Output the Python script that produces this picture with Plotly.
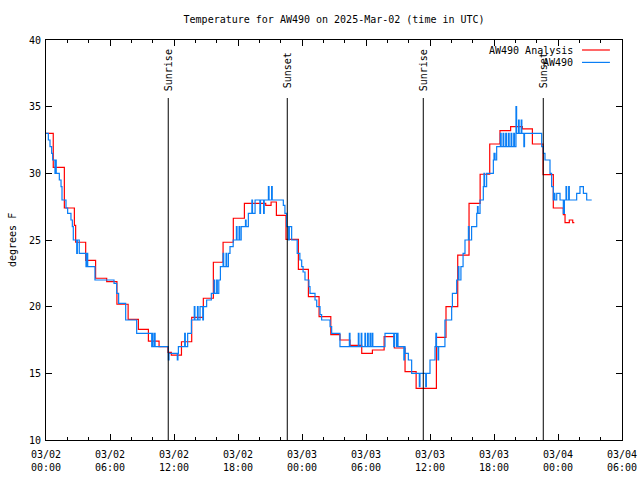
import plotly.graph_objects as go
import pandas as pd

BASE = pd.Timestamp("2025-03-02 00:00")

# Hourly analysis (hours since 03/02 00:00 UTC, degrees F)
red_hours = [0.0, 0.68, 1.72, 2.66, 2.78, 3.72, 4.65, 5.69, 6.65, 7.7, 8.66, 9.6, 10.6, 11.44, 11.75,
             12.7, 13.66, 14.75, 15.69, 16.6, 17.56, 18.6, 20.6, 21.1, 21.6, 22.5, 23.66, 24.6,
             25.6, 26.7, 27.56, 28.5, 29.6, 30.6, 31.7, 32.66, 33.66, 34.7, 36.6, 37.5, 38.6,
             39.66, 40.7, 41.6, 42.56, 43.56, 44.66, 45.6, 46.6, 47.56, 48.5, 48.66, 49.06,
             49.38, 49.53]
red_temps = [33.0, 30.45, 27.4, 26.1, 24.83, 23.47, 22.13, 21.88, 20.18, 19.05, 18.3, 17.42, 17.0,
             16.57, 16.37, 17.37, 19.2, 20.63, 23.33, 24.83, 26.63, 27.75, 27.6, 27.85, 26.85,
             25.05, 22.8, 20.75, 19.25, 17.9, 17.5, 17.1, 16.5, 16.75, 17.75, 16.9, 15.13,
             13.87, 17.7, 20.0, 23.87, 27.75, 29.93, 32.2, 33.2, 33.5, 33.33, 32.2, 29.9, 27.4,
             26.9, 26.3, 26.5, 26.3, 26.3]

# Station observations: (hours since 03/02 00:00 UTC, degrees F) at each change of value
blue_obs = [
    (0.0, 33.0), (0.22, 32.5), (0.375, 32.0), (0.53, 31.5), (0.625, 31.0), (0.84, 30.0),
    (0.9, 31.0), (0.96, 30.0), (1.25, 29.5), (1.41, 29.0), (1.5, 28.0), (1.875, 27.4),
    (2.03, 27.0), (2.34, 26.5), (2.47, 26.0), (2.56, 25.0), (2.88, 24.0), (2.94, 25.0),
    (3.12, 24.0), (3.75, 23.0), (3.85, 24.0), (3.91, 23.0), (4.59, 22.0), (6.375, 21.75),
    (6.625, 21.0), (6.81, 20.25), (7.47, 19.0), (8.5, 18.0), (9.91, 17.0), (9.97, 18.0),
    (10.03, 17.0), (10.17, 18.0), (10.23, 17.0), (11.47, 16.0), (11.53, 16.5), (12.31, 16.0),
    (12.37, 16.5), (12.41, 17.0), (13.0, 18.0), (13.06, 17.0), (13.28, 18.0), (13.63, 19.0),
    (13.9, 20.0), (13.96, 19.0), (14.2, 20.0), (14.26, 19.0), (14.44, 20.0), (14.7, 19.0),
    (14.76, 20.0), (15.06, 20.5), (15.5, 21.0), (15.75, 22.0), (15.81, 21.0), (16.0, 22.0),
    (16.06, 21.0), (16.2, 22.0), (16.35, 23.0), (16.6, 24.0), (16.66, 23.0), (16.88, 24.0),
    (16.94, 23.0), (17.1, 24.0), (17.25, 24.5), (17.55, 25.0), (17.85, 26.0), (17.91, 25.0),
    (18.1, 26.0), (18.16, 25.0), (18.3, 26.0), (18.7, 26.5), (18.76, 26.0), (18.97, 27.0),
    (19.3, 28.0), (19.36, 27.0), (19.6, 28.0), (20.05, 27.0), (20.11, 28.0), (20.4, 27.0),
    (20.46, 28.0), (20.85, 29.0), (20.91, 28.0), (21.15, 29.0), (21.21, 28.0), (22.25, 27.6),
    (22.4, 27.0), (22.56, 26.0), (22.75, 25.0), (22.81, 26.0), (23.03, 25.0), (23.55, 24.0),
    (23.8, 23.5), (23.97, 23.0), (24.1, 22.6), (24.28, 22.0), (24.65, 21.5), (24.75, 21.0),
    (25.22, 20.5), (25.38, 20.0), (25.69, 19.4), (25.84, 19.0), (26.63, 18.5), (26.78, 18.0),
    (27.56, 17.0), (28.44, 18.0), (28.5, 17.0), (29.28, 18.0), (29.34, 17.0), (29.55, 18.0),
    (29.61, 17.0), (29.9, 18.0), (29.96, 17.0), (30.15, 18.0), (30.21, 17.0), (30.38, 18.0),
    (30.44, 17.0), (30.58, 18.0), (30.64, 17.0), (31.78, 18.0), (32.6, 17.0), (32.66, 18.0),
    (32.85, 17.0), (32.91, 18.0), (33.0, 17.0), (33.55, 16.0), (33.61, 17.0), (33.66, 16.5),
    (33.97, 16.0), (34.28, 15.0), (35.0, 14.0), (35.06, 15.0), (35.6, 14.0), (35.66, 15.0),
    (36.0, 16.0), (36.47, 17.0), (36.55, 18.0), (36.61, 17.0), (36.75, 16.0), (36.81, 17.0),
    (37.4, 19.0), (38.03, 20.0), (38.1, 21.0), (38.5, 22.0), (38.65, 23.0), (38.71, 22.0),
    (38.9, 23.0), (39.1, 24.0), (39.28, 25.0), (39.6, 26.0), (39.66, 25.0), (39.9, 26.0),
    (40.38, 27.0), (40.45, 27.5), (40.51, 27.0), (40.69, 28.0), (41.0, 29.0), (41.06, 30.0),
    (41.12, 29.0), (41.31, 30.0), (41.94, 31.0), (42.0, 31.5), (42.1, 31.0), (42.25, 32.0),
    (42.6, 33.0), (42.67, 32.0), (42.85, 33.0), (42.92, 32.0), (43.1, 33.0), (43.17, 32.0),
    (43.35, 33.0), (43.42, 32.0), (43.6, 33.0), (43.67, 32.0), (43.85, 33.0), (43.92, 32.0),
    (44.06, 35.0), (44.12, 33.0), (44.3, 34.0), (44.36, 33.0), (44.55, 34.0), (44.61, 33.0),
    (44.8, 32.0), (44.86, 33.0), (46.47, 32.0), (46.63, 31.5), (46.78, 31.0), (47.25, 30.0),
    (47.4, 29.0), (47.56, 28.0), (47.65, 28.5), (47.71, 28.0), (47.88, 28.5), (48.19, 28.0),
    (48.5, 27.0), (48.6, 28.0), (48.75, 29.0), (48.81, 28.0), (49.0, 29.0), (49.06, 28.0),
    (49.75, 28.5), (50.06, 29.0), (50.38, 28.5), (50.69, 28.0), (51.16, 28.0),
]
blue_hours = [p[0] for p in blue_obs]
blue_temps = [p[1] for p in blue_obs]

event_hours = [11.46, 22.62, 35.37, 46.62]
event_labels = ["Sunrise", "Sunset", "Sunrise", "Sunset"]

xtick_hours = [0, 6, 12, 18, 24, 30, 36, 42, 48, 54]
xtick_labels = ["03/02<br>00:00", "03/02<br>06:00", "03/02<br>12:00", "03/02<br>18:00",
                "03/03<br>00:00", "03/03<br>06:00", "03/03<br>12:00", "03/03<br>18:00",
                "03/04<br>00:00", "03/04<br>06:00"]
ytick_vals = [10, 15, 20, 25, 30, 35, 40]

series_names = ["AW490 Analysis", "AW490"]
series_colors = ["#ff0000", "#0a7ef5"]


def to_time(hours):
    return [BASE + pd.Timedelta(hours=h) for h in hours]


FONT = "DejaVu Sans Mono"

fig = go.Figure()
fig.add_trace(go.Scatter(x=to_time(red_hours), y=red_temps, mode="lines", line_shape="hv",
                         name=series_names[0], line=dict(color=series_colors[0], width=1.2)))
fig.add_trace(go.Scatter(x=to_time(blue_hours), y=blue_temps, mode="lines", line_shape="hv",
                         name=series_names[1], line=dict(color=series_colors[1], width=1.2)))

shapes = []
annotations = []
for h, lab in zip(event_hours, event_labels):
    t = BASE + pd.Timedelta(hours=h)
    shapes.append(dict(type="line", xref="x", yref="paper", x0=t, x1=t, y0=0, y1=0.855,
                       line=dict(color="black", width=1)))
    annotations.append(dict(x=t, y=0.925, xref="x", yref="paper", text=lab, textangle=-90,
                            showarrow=False, xanchor="center", yanchor="middle", xshift=1,
                            font=dict(family=FONT, size=10, color="black")))

# legend (gnuplot style: text right-aligned, sample line to the right)
leg_y = [0.975, 0.944]
for name, col, ly in zip(series_names, series_colors, leg_y):
    annotations.append(dict(x=0.919, y=ly, xref="paper", yref="paper", text=name,
                            showarrow=False, xanchor="right", yanchor="middle",
                            font=dict(family=FONT, size=10, color="black")))
    shapes.append(dict(type="line", xref="paper", yref="paper", x0=0.9306, x1=0.979,
                       y0=ly, y1=ly, line=dict(color=col, width=1.2)))

annotations.append(dict(x=-0.059, y=0.5, xref="paper", yref="paper", text="degrees F",
                        textangle=-90, showarrow=False, xanchor="center", yanchor="middle",
                        font=dict(family=FONT, size=10, color="black")))

fig.update_layout(
    width=640, height=480, autosize=False,
    margin=dict(l=46, r=18, t=40, b=40, autoexpand=False),
    paper_bgcolor="white", plot_bgcolor="white",
    showlegend=False,
    font=dict(family=FONT, size=10, color="black"),
    title=dict(text="Temperature for AW490 on 2025-Mar-02 (time in UTC)", x=0.522, xanchor="center",
               y=1 - 19 / 480, yanchor="middle", yref="container",
               font=dict(family=FONT, size=10, color="black")),
    shapes=shapes, annotations=annotations,
)
fig.update_xaxes(
    type="date", range=[BASE, BASE + pd.Timedelta(hours=54)], automargin=False,
    tickvals=to_time(xtick_hours), ticktext=xtick_labels,
    ticks="inside", ticklen=6, tickcolor="black", tickwidth=1, ticklabelstandoff=5,
    minor=dict(dtick=2 * 3600 * 1000, tick0=BASE, ticks="inside", ticklen=3,
               tickcolor="black", tickwidth=1),
    showline=True, linecolor="black", linewidth=1, mirror="ticks",
    showgrid=False, zeroline=False, tickfont=dict(family=FONT, size=10, color="black"),
)
fig.update_yaxes(
    range=[10, 40], tickvals=ytick_vals, ticks="inside", ticklen=6, tickcolor="black",
    ticklabelstandoff=2, automargin=False,
    showline=True, linecolor="black", linewidth=1, mirror="ticks",
    showgrid=False, zeroline=False, tickfont=dict(family=FONT, size=10, color="black"),
)

fig.write_html("out.html", config={"displayModeBar": False},
               post_script="document.body.style.margin='0';document.body.style.padding='0';")
